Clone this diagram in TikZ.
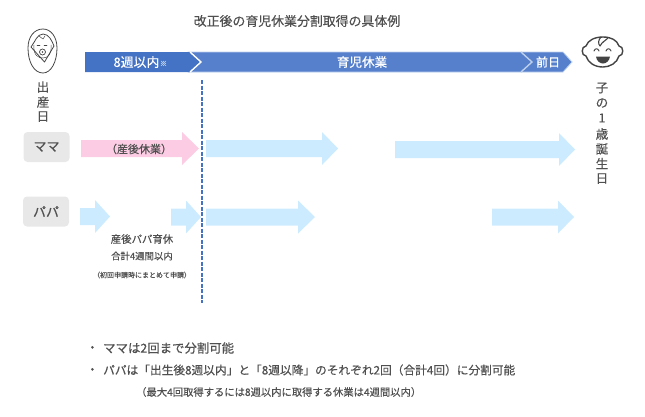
\documentclass[tikz,border=0pt]{standalone}
\usepackage{fontspec}
\setmainfont{Noto Sans CJK JP}[FakeBold=0.35]
\definecolor{txt}{HTML}{505050}
\definecolor{ink}{HTML}{444444}
\definecolor{band1}{HTML}{4472C4}
\definecolor{band2}{HTML}{5680CC}
\definecolor{bandedge}{HTML}{BCCFEC}
\definecolor{pinkarrow}{HTML}{FBCCE3}
\definecolor{bluearrow}{HTML}{CCEBFF}
\definecolor{chip}{HTML}{E8E8E8}
\newcommand{\fs}[1]{\fontsize{#1}{#1}\selectfont}
\newcommand{\blockarrow}[6]{% colour, x1, x-head, x-tip, y-centre, half-body
  \fill[#1] (#2,#5-#6) -- (#3,#5-#6) -- (#3,#5-16.5) -- (#4,#5) -- (#3,#5+16.5) -- (#3,#5+#6) -- (#2,#5+#6) -- cycle;}
\tikzset{
  lbl/.style={text=txt,inner sep=0pt,font=\fs{#1}},
  lbl/.default=12.5,
  bandtxt/.style={text=white,inner sep=0pt,font=\fs{#1}},
  bandtxt/.default=12.5,
  chipbox/.style={fill=chip,rounded corners=4pt,minimum width=46pt,minimum height=30pt,inner sep=0pt,text=txt,font=\fs{13}},
  icon/.style={draw=ink,line width=.8pt,line cap=round,line join=round},
}
\begin{document}
\begin{tikzpicture}[x=1pt,y=-1pt]
\useasboundingbox (0,0) rectangle (645,416);
% title
\node[lbl=12.9] (title) at (297,21) {改正後の育児休業分割取得の具体例};
% band
\draw[fill=band2,draw=bandedge,line width=.8pt] (188,52) -- (563,52) -- (572,62) -- (563,72) -- (188,72) -- cycle;
\fill[band1] (85,52) -- (190,52) -- (201,62) -- (190,72) -- (85,72) -- cycle;
\draw[white,line width=1.4pt] (190,52) -- (201,62) -- (190,72);
\draw[bandedge,line width=1.4pt] (521,52) -- (532,62) -- (521,72);
\node[bandtxt=12.9] (w8) at (136.5,62) {8週以内};
\node[text=bandedge,inner sep=0pt,font=\fs{7}] (note) at (163.5,63.5) {※};
\node[bandtxt=12.6] (ikuji) at (362,62) {育児休業};
\node[bandtxt=12] (zen) at (548,62) {前日};
% dashed divider
\coordinate (dtop) at (202,80);
\coordinate (dbot) at (202,303);
\draw[band1,line width=1.4pt,dash pattern=on 4pt off 1.5pt] (dtop) -- (dbot);
% left icon
\draw[icon] (43,29) .. controls (34,29) and (28,37) .. (28,48) .. controls (28,62) and (34,73) .. (43,73) .. controls (51,73) and (57,62) .. (57,48) .. controls (57,37) and (51,29) .. (43,29) -- cycle;
\draw[icon] (31,47) .. controls (35,42) and (37,34) .. (43,34) .. controls (49,34) and (52,41) .. (54,46) -- (44.5,62) -- cycle;
\draw[icon,line width=.5pt] (34,45) .. controls (33,56) and (39,58) .. (43,58) .. controls (48,58) and (52,54) .. (51,45);
\draw[icon,line width=.5pt] (39,36) -- (43,39) -- (45,36);
\draw[icon,line width=.5pt] (37,45) -- (40,45) (44,45) -- (47,45);
\draw[icon,line width=.7pt,fill=white] (42.5,52) circle (3);
\fill[ink] (42.5,52) circle (.9);
% right icon
\draw[icon,line width=1.4pt] (586,46) .. controls (588,40) and (595,37) .. (603,37) .. controls (611,37) and (617,40) .. (619,46) .. controls (624,46) and (624,56) .. (619,56) .. controls (617,63) and (610,67) .. (603,67) .. controls (595,67) and (588,63) .. (586,56) .. controls (581,56) and (581,46) .. (586,46) -- cycle;
\draw[icon,line width=1.1pt] (601,37) .. controls (598,40) and (598,44) .. (600,46) .. controls (602,42) and (605,41) .. (608,38);
\draw[icon,line width=1pt] (594,51) .. controls (595,48) and (598,48) .. (599,51);
\draw[icon,line width=1pt] (606,51) .. controls (607,48) and (610,48) .. (611,51);
\fill[ink] (596,56.5) -- (610,56.5) .. controls (609.5,61) and (606,63.5) .. (603,63.5) .. controls (600,63.5) and (596.5,61) .. (596,56.5) -- cycle;
% vertical labels
\node[lbl] (b1) at (43,87) {出};
\node[lbl] (b2) at (43,102) {産};
\node[lbl] (b3) at (43,116.5) {日};
\node[lbl] (k1) at (602,88) {子};
\node[lbl] (k2) at (602,103) {の};
\node[lbl] (k3) at (602,118) {1};
\node[lbl] (k4) at (602,134) {歳};
\node[lbl] (k5) at (602,149) {誕};
\node[lbl] (k6) at (602,163.5) {生};
\node[lbl] (k7) at (602,178.5) {日};
% chips
\node[chipbox] (mama) at (46.5,147) {ママ};
\node[chipbox] (papa) at (46,211.5) {パパ};
% arrows
\blockarrow{pinkarrow}{81}{182}{199}{148.5}{8.5}
\blockarrow{bluearrow}{206}{322}{338}{148.5}{8.5}
\blockarrow{bluearrow}{395}{559}{575}{149.5}{8.5}
\blockarrow{bluearrow}{80}{95}{110}{216.5}{8.5}
\blockarrow{bluearrow}{171}{186}{201}{217}{8.5}
\blockarrow{bluearrow}{206}{298}{315}{217}{8.5}
\blockarrow{bluearrow}{492}{558}{574}{217}{8.5}
% arrow labels
\node[lbl=11] (sango) at (139,149) {（産後休業）};
\node[lbl=10.4] (p1) at (142,239) {産後パパ育休};
\node[lbl=9.4] (p2) at (142,256) {合計4週間以内};
\node[lbl=7] (p3) at (142,275) {（初回申請時にまとめて申請）};
% notes
\node[lbl=12.4,anchor=west] (n0) at (86,349) {・};
\node[lbl=12.4,anchor=west] (n1) at (103,348) {ママは2回まで分割可能};
\node[lbl=12.4,anchor=west] (n2b) at (86,371) {・};
\node[lbl=11.7,anchor=west] (n2) at (103,370) {パパは「出生後8週以内」と「8週以降」のそれぞれ2回（合計4回）に分割可能};
\node[lbl=10.3,anchor=west] (n3) at (136,392) {（最大4回取得するには8週以内に取得する休業は4週間以内）};
\end{tikzpicture}
\end{document}
